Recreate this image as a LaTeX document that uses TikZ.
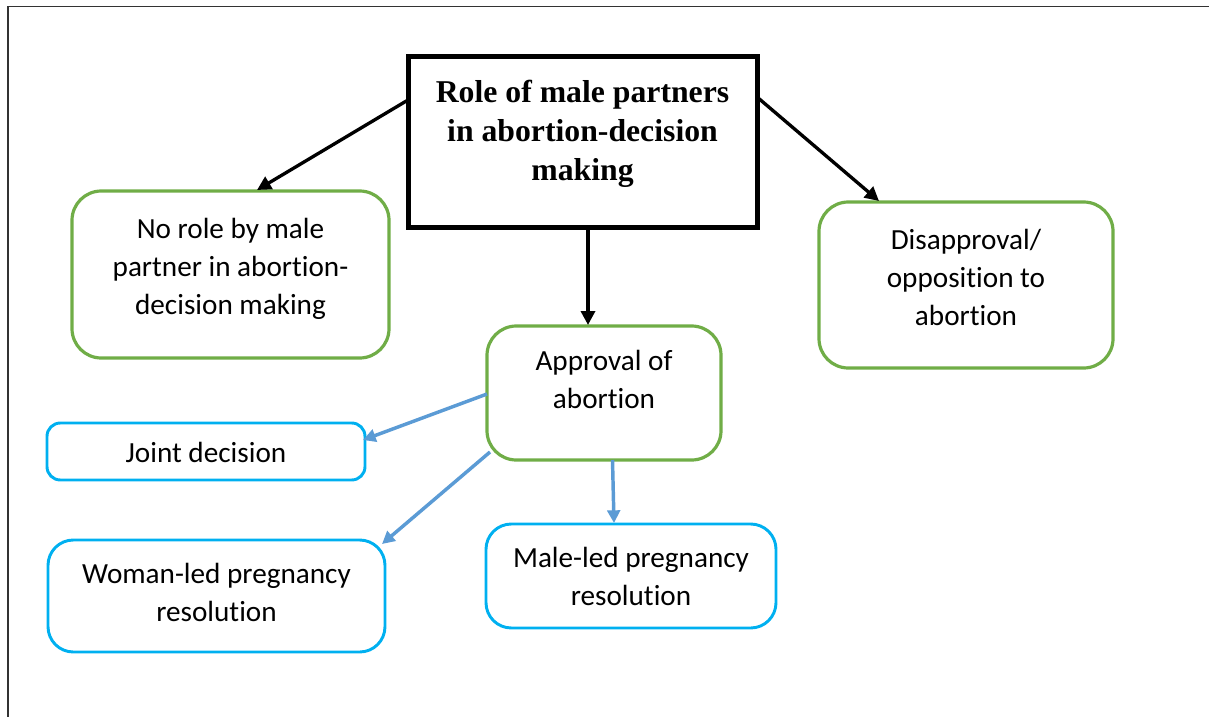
\documentclass[tikz,border=0pt]{standalone}
\usepackage{fontspec}
\setmainfont{Liberation Serif}
\newfontfamily\calibri[Ligatures={NoCommon,NoRare,NoContextual}]{Carlito}
\usetikzlibrary{arrows.meta,calc}
\definecolor{boxgreen}{HTML}{70AD47}
\definecolor{boxblue}{HTML}{00B0F0}
\definecolor{arrblue}{HTML}{5B9BD5}
\definecolor{framegray}{HTML}{333333}
\tikzset{
  mainbox/.style={draw=black,line width=3.75pt,inner sep=0pt,outer sep=0pt},
  greenbox/.style={draw=boxgreen,line width=2.4pt,rounded corners=22pt,inner sep=0pt,outer sep=0pt},
  bluebox/.style={draw=boxblue,line width=2.2pt,rounded corners=19pt,inner sep=0pt,outer sep=0pt},
  titletext/.style={anchor=base,align=center,inner sep=0pt,font=\fontsize{23.8}{29.2}\selectfont\bfseries},
  bodytext/.style={anchor=base,align=center,inner sep=0pt,font=\fontsize{21.9}{28.5}\selectfont\calibri},
  blackarrow/.style={draw=black,line width=2.5pt,-{Triangle[length=10.5pt,width=10.5pt]}},
  bluearrow/.style={draw=arrblue,line width=2.6pt,-{Triangle[length=9.5pt,width=9.5pt]}},
  frameline/.style={draw=framegray,line width=1.2pt}
}
\begin{document}
\begin{tikzpicture}[x=0.75pt,y=-0.75pt]
\useasboundingbox (0,0) rectangle (1209,717);
% frame
\coordinate (fTL) at (8,6.5);
\coordinate (fTR) at (1209,6.5);
\coordinate (fBL) at (8,717);
\draw[frameline] (fTR) -- (fTL) -- (fBL);
% boxes
\node[mainbox,minimum width=349*0.75pt,minimum height=170*0.75pt] (main) at (582.5,142) {};
\node[greenbox,minimum width=317*0.75pt,minimum height=167*0.75pt] (norole) at (230.5,274.5) {};
\node[greenbox,minimum width=294*0.75pt,minimum height=166*0.75pt] (disapp) at (966,285) {};
\node[greenbox,minimum width=234*0.75pt,minimum height=134*0.75pt] (approval) at (604,393) {};
\node[bluebox,rounded corners=10pt,minimum width=318*0.75pt,minimum height=57*0.75pt] (joint) at (206,451.5) {};
\node[bluebox,minimum width=337*0.75pt,minimum height=112*0.75pt] (woman) at (216.5,596) {};
\node[bluebox,minimum width=290*0.75pt,minimum height=104*0.75pt] (male) at (631,576) {};
% texts (anchored at the baseline of the last line)
\node[titletext] (mainT) at (582.5,180) {Role of male partners\\in abortion-decision\\making};
\node[bodytext] (noroleT) at (230.5,314) {No role by male\\partner in abortion-\\decision making};
\node[bodytext] (disappT) at (966,325) {Disapproval/\\opposition to\\abortion};
\node[bodytext] (approvalT) at (604,408) {Approval of\\abortion};
\node[bodytext] (jointT) at (206,462) {Joint decision};
\node[bodytext] (womanT) at (216.5,621) {Woman-led pregnancy\\resolution};
\node[bodytext] (maleT) at (631,605) {Male-led pregnancy\\resolution};
% black arrows
\draw[blackarrow] ($(main.west)+(0,-42)$) -- ($(norole.north)+(26.5,-1)$);
\draw[blackarrow] ($(main.east)+(0,-45)$) -- ($(disapp.north)+(-87,-1)$);
\draw[blackarrow] ($(main.south)+(5.5,0)$) -- ($(approval.north)+(-16,-1)$);
% blue arrows
\draw[bluearrow] ($(approval.west)+(0,1)$) -- ($(joint.east)+(-2,-11.5)$);
\draw[bluearrow] ($(approval.south west)+(3,-8)$) -- ($(woman.north east)+(-3,4)$);
\draw[bluearrow] ($(approval.south)+(8.5,0)$) -- ($(male.north)+(-17,-1)$);
\end{tikzpicture}
\end{document}
